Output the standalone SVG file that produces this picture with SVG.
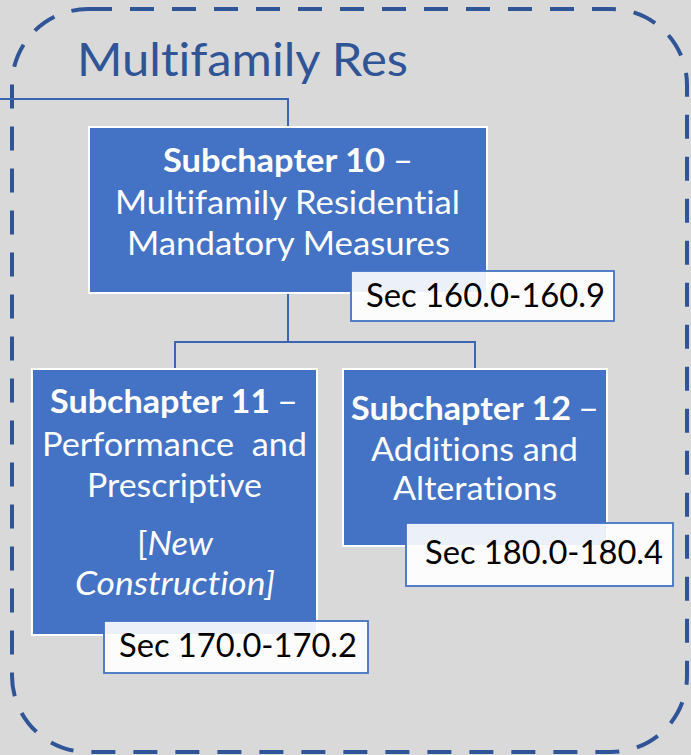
<svg xmlns="http://www.w3.org/2000/svg" width="691" height="755" viewBox="0 0 691 755">
<style>
text{font-family:Lato,"Open Sans","Liberation Sans",sans-serif;font-variant-ligatures:none}
.w{fill:#fff;font-size:32px}
.b{font-weight:bold}
.i{font-style:italic}
.sec{fill:#000;font-size:33px}
.box{fill:#4472C4;stroke:#fff;stroke-width:2}
.lab{fill:#fff;fill-opacity:0.9;stroke:#4472C4;stroke-width:1.8}
.con{fill:none;stroke:#3A66B2;stroke-width:2}
</style>
<rect x="0" y="0" width="691" height="755" fill="#D9D9D9"/>
<g id="container">
<rect x="12" y="9" width="675" height="743" rx="76" ry="76" fill="none" stroke="#2F5597" stroke-width="4" stroke-dasharray="24 18"/>
<text x="77" y="76" font-size="47" fill="#2F5597" textLength="331" lengthAdjust="spacingAndGlyphs">Multifamily Res</text>
</g>
<g id="connectors">
<path class="con" d="M0,99 H288 V127"/>
<path class="con" d="M288,293 V342 M175,369 V342 H475 V369"/>
</g>
<g id="sub10">
<rect class="box" x="89" y="127" width="398" height="166"/>
<text class="w b" x="163" y="172" textLength="222" lengthAdjust="spacingAndGlyphs">Subchapter 10</text>
<text class="w" x="393" y="172" textLength="20" lengthAdjust="spacingAndGlyphs">–</text>
<text class="w" x="115" y="214" textLength="345" lengthAdjust="spacingAndGlyphs">Multifamily Residential</text>
<text class="w" x="127" y="255" textLength="323" lengthAdjust="spacingAndGlyphs">Mandatory Measures</text>
</g>
<g id="sec160">
<rect class="lab" x="351" y="271" width="263" height="50"/>
<text class="sec" x="366" y="307" textLength="239" lengthAdjust="spacingAndGlyphs">Sec 160.0-160.9</text>
</g>
<g id="sub11">
<rect class="box" x="32" y="369" width="285" height="266"/>
<text class="w b" x="50" y="413" textLength="220" lengthAdjust="spacingAndGlyphs">Subchapter 11</text>
<text class="w" x="277" y="413" textLength="21" lengthAdjust="spacingAndGlyphs">–</text>
<text class="w" x="42" y="456" textLength="265" lengthAdjust="spacingAndGlyphs" style="white-space:pre">Performance  and</text>
<text class="w" x="87" y="497" textLength="175" lengthAdjust="spacingAndGlyphs">Prescriptive</text>
<text class="w" x="137" y="555" textLength="76" lengthAdjust="spacingAndGlyphs">[<tspan class="i">New</tspan></text>
<text class="w i" x="75" y="595" textLength="200" lengthAdjust="spacingAndGlyphs">Construction]</text>
</g>
<g id="sec170">
<rect class="lab" x="104" y="621" width="264" height="52"/>
<text class="sec" x="119" y="657" textLength="238" lengthAdjust="spacingAndGlyphs">Sec 170.0-170.2</text>
</g>
<g id="sub12">
<rect class="box" x="343" y="369" width="264" height="177"/>
<text class="w b" x="351" y="420" textLength="220" lengthAdjust="spacingAndGlyphs">Subchapter 12</text>
<text class="w" x="578" y="420" textLength="21" lengthAdjust="spacingAndGlyphs">–</text>
<text class="w" x="371" y="461" textLength="207" lengthAdjust="spacingAndGlyphs">Additions and</text>
<text class="w" x="393" y="500" textLength="164" lengthAdjust="spacingAndGlyphs">Alterations</text>
</g>
<g id="sec180">
<rect class="lab" x="406" y="523" width="267" height="63"/>
<text class="sec" x="425" y="564" textLength="238" lengthAdjust="spacingAndGlyphs">Sec 180.0-180.4</text>
</g>
</svg>
